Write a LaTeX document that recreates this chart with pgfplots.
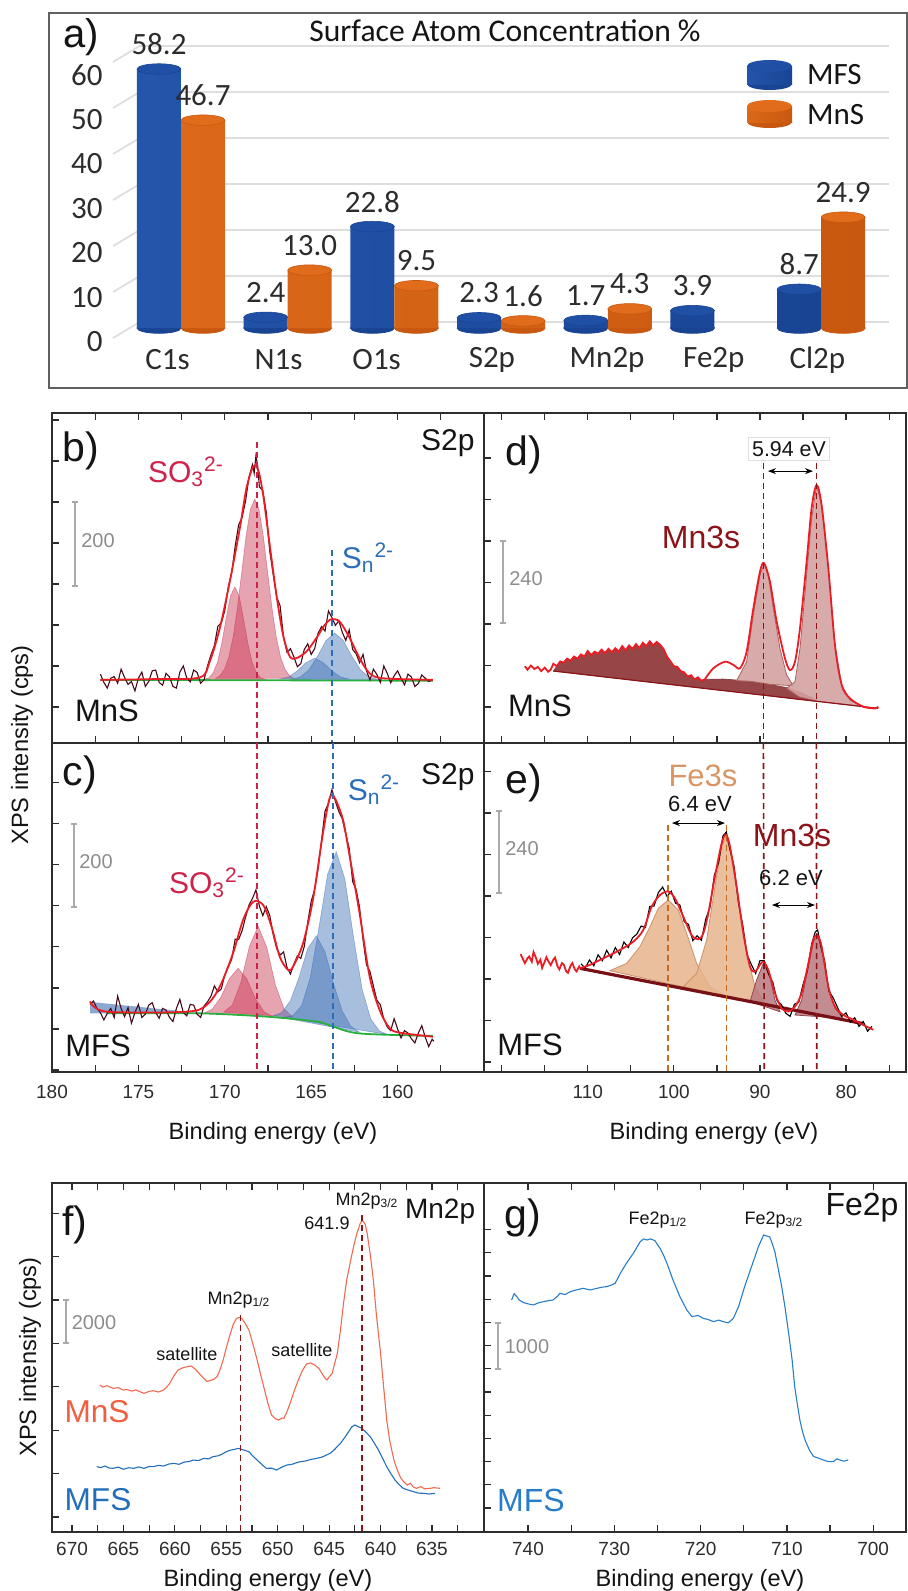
\documentclass[border=0pt]{standalone}
\usepackage{fontspec}
\setmainfont{Liberation Sans}
\newfontfamily\calfont{Carlito}
\usepackage{pgfplots}
\pgfplotsset{compat=1.18}
\usetikzlibrary{arrows.meta}
\newcommand\fs[1]{\fontsize{#1}{#1}\selectfont}

\definecolor{axcol}{RGB}{45,45,45}
\definecolor{txt}{RGB}{20,20,20}
\definecolor{blueL}{RGB}{35,85,170}
\definecolor{blueM}{RGB}{60,120,210}
\definecolor{blueR}{RGB}{25,68,148}
\definecolor{blueTop}{RGB}{32,80,165}
\definecolor{orL}{RGB}{220,105,25}
\definecolor{orM}{RGB}{252,145,50}
\definecolor{orR}{RGB}{200,88,15}
\definecolor{orTop}{RGB}{225,108,28}
\definecolor{gridc}{RGB}{222,222,222}
\definecolor{fitred}{RGB}{235,28,36}
\definecolor{rawdark}{RGB}{70,10,25}
\definecolor{basegreen}{RGB}{40,175,60}
\definecolor{so3}{RGB}{205,35,75}
\definecolor{snblue}{RGB}{45,110,185}
\definecolor{compred}{RGB}{200,50,80}
\definecolor{compblue}{RGB}{60,110,180}
\definecolor{mndark}{RGB}{140,20,25}
\definecolor{mnfill}{RGB}{150,70,70}
\definecolor{mnpink}{RGB}{212,162,162}
\definecolor{mnpinkd}{RGB}{175,95,95}
\definecolor{fefill}{RGB}{230,180,140}
\definecolor{fedraw}{RGB}{205,145,100}
\definecolor{fetext}{RGB}{215,150,100}
\definecolor{fedash}{RGB}{200,105,30}
\definecolor{mncomp}{RGB}{185,120,125}
\definecolor{mncompd}{RGB}{150,70,80}
\definecolor{mnsline}{RGB}{240,105,80}
\definecolor{mnstext}{RGB}{240,95,65}
\definecolor{mfsline}{RGB}{35,110,185}
\definecolor{feline}{RGB}{40,125,200}
\definecolor{sbar}{RGB}{170,170,170}
\definecolor{stext}{RGB}{140,140,140}

\pgfplotsset{
  spec/.style={scale only axis, x dir=reverse,
    axis line style={draw=axcol, line width=0.75pt},
    tick align=inside, major tick length=3.5pt, minor tick length=3.5pt,
    tick style={axcol, line width=0.6pt},
    ytick pos=left, yticklabels={}, scaled y ticks=false,
    ticklabel style={font=\fs{9.5}, text=txt!90},
    /pgf/number format/assume math mode=true,
    /pgf/number format/1000 sep={}},
  cfill/.style={fill=#1, fill opacity=0.45, draw=#1, draw opacity=0.5, line width=0.3pt},
}

\begin{document}
\begin{tikzpicture}[x=0.5pt,y=-0.5pt]
\path[use as bounding box] (0,0) rectangle (908,1591);

% ---------------- a) bar chart
\draw[gray!75!black, line width=0.6pt] (49,13) rectangle (907,388);
\begin{axis}[at={(53pt,-164pt)}, anchor=south west, scale only axis,
  width=394.5pt, height=155.75pt,
  xmin=-0.4967, xmax=6.898, ymin=0, ymax=70, clip=false, clip marker paths=true,
  axis line style={draw=none}, tick style={draw=none},
  xtick={0.08,1.12,2.04,3.12,4.2,5.2,6.17},
  xticklabels={C1s,N1s,O1s,S2p,Mn2p,Fe2p,Cl2p},
  ytick={0,10,...,60},
  xticklabel style={anchor=center, yshift=-16pt},
  yticklabel style={anchor=east, inner sep=0pt, xshift=-1.5pt, yshift=-7pt},
  ticklabel style={font=\calfont\fs{15.5}, text=txt!90},
  /pgf/number format/assume math mode=true]
 % back grid (perspective offset)
 \draw[gridc, line width=0.9pt] (-0.43,-2.25) -- (-0.18,1.35) -- (6.84,1.35);
 \draw[gridc, line width=0.9pt] (-0.43,8.09) -- (-0.18,11.69) -- (6.84,11.69);
 \draw[gridc, line width=0.9pt] (-0.43,18.43) -- (-0.18,22.03) -- (6.84,22.03);
 \draw[gridc, line width=0.9pt] (-0.43,28.77) -- (-0.18,32.37) -- (6.84,32.37);
 \draw[gridc, line width=0.9pt] (-0.43,39.11) -- (-0.18,42.71) -- (6.84,42.71);
 \draw[gridc, line width=0.9pt] (-0.43,49.45) -- (-0.18,53.05) -- (6.84,53.05);
 \draw[gridc, line width=0.9pt] (-0.43,59.79) -- (-0.18,63.39) -- (6.84,63.39);
 % bottom caps
 \addplot[blueR, only marks, mark=*, mark size=11pt, mark options={yscale=0.24, fill=blueR, draw=blueR}]
   coordinates {(0,0) (1,0) (2,0) (3,0) (4,0) (5,0) (6,0)};
 \addplot[orR, only marks, mark=*, mark size=11pt, mark options={yscale=0.24, fill=orR, draw=orR}]
   coordinates {(0.4125,0) (1.4125,0) (2.4125,0) (3.4125,0) (4.4125,0) (6.4125,0)};
 % MFS
 \addplot[ybar, bar width=22pt, bar shift=0pt, draw=none,
   left color=blueL, middle color=blueM, right color=blueR,
   nodes near coords={\pgfmathprintnumber[fixed,fixed zerofill,precision=1]{\pgfplotspointmeta}},
   every node near coord/.append style={anchor=center, yshift=12.5pt, font=\calfont\fs{15.5}, text=txt!90}]
   coordinates {(0,58.2) (1,2.4) (2,22.8) (3,2.3) (4,1.7) (5,3.9) (6,8.7)};
 % MnS
 \addplot[ybar, bar width=22pt, bar shift=0pt, draw=none,
   left color=orL, middle color=orM, right color=orR,
   nodes near coords={\pgfmathprintnumber[fixed,fixed zerofill,precision=1]{\pgfplotspointmeta}},
   every node near coord/.append style={anchor=center, yshift=12.5pt, font=\calfont\fs{15.5}, text=txt!90}]
   coordinates {(0.4125,46.7) (1.4125,13.0) (2.4125,9.5) (3.4125,1.6) (4.4125,4.3) (6.4125,24.9)};
 % top caps
 \addplot[blueTop, only marks, mark=*, mark size=11pt, mark options={yscale=0.24, fill=blueTop, draw=blueR, line width=0.3pt}]
   coordinates {(0,58.2) (1,2.4) (2,22.8) (3,2.3) (4,1.7) (5,3.9) (6,8.7)};
 \addplot[orTop, only marks, mark=*, mark size=11pt, mark options={yscale=0.24, fill=orTop, draw=orR, line width=0.3pt}]
   coordinates {(0.4125,46.7) (1.4125,13.0) (2.4125,9.5) (3.4125,1.6) (4.4125,4.3) (6.4125,24.9)};
\end{axis}
\node[font=\fs{20}, text=txt] at (81,37) {a)};
\node[font=\calfont\fs{15.8}, text=txt] at (505,31) {Surface Atom Concentration \%};
% legend
\fill[blueR] (769.5,84) ellipse [x radius=22.5, y radius=6];
\shade[left color=blueL, middle color=blueM, right color=blueR] (747,66) rectangle (792,84);
\fill[blueTop] (769.5,66) ellipse [x radius=22.5, y radius=6];
\fill[orR] (769.5,122) ellipse [x radius=22.5, y radius=6];
\shade[left color=orL, middle color=orM, right color=orR] (747,106) rectangle (792,122);
\fill[orTop] (769.5,106) ellipse [x radius=22.5, y radius=6];
\node[anchor=west, font=\calfont\fs{15.5}, text=txt] at (800,75) {MFS};
\node[anchor=west, font=\calfont\fs{15.5}, text=txt] at (800,115) {MnS};

% ---------------- b) MnS S2p
\begin{axis}[spec, at={(26pt,-371.5pt)}, anchor=south west, width=216pt, height=165pt,
  xmin=155, xmax=180, ymin=-88, ymax=717,
  xtick={160,165,...,180}, minor xtick={157.5,162.5,...,177.5}, xtick pos=both, xticklabels={},
  ytick={0,100,...,700}]
 \addplot[cfill=compred] coordinates {(171.2,67) (170.92,71) (170.67,83) (170.42,109) (170.17,156) (169.92,216) (169.67,271) (169.42,293) (169.17,271) (168.92,216) (168.67,156) (168.42,109) (168.17,83) (167.92,71) (167.64,67)} -- cycle;
 \addplot[cfill=compred] coordinates {(170.52,70) (170.27,77) (170.02,92) (169.77,121) (169.52,170) (169.27,241) (169.02,328) (168.77,416) (168.52,482) (168.27,507) (168.02,482) (167.77,416) (167.52,328) (167.27,241) (167.02,170) (166.77,121) (166.52,92) (166.27,77) (166.02,70)} -- cycle;
 \addplot[cfill=compblue] coordinates {(166.8,68) (166.3,73) (165.8,88) (165.3,108) (164.8,119) (164.3,108) (163.8,88) (163.3,73) (162.8,68)} -- cycle;
 \addplot[cfill=compblue] coordinates {(166.14,67) (165.64,73) (165.14,90) (164.64,123) (164.14,162) (163.64,180) (163.14,162) (162.64,123) (162.14,90) (161.64,73) (161.14,67)} -- cycle;
 \addplot[basegreen, line width=0.9pt] coordinates {(177.2,66) (157.96,64)};
 \addplot[rawdark, line width=0.55pt] coordinates {(177.2,80) (177.0,60) (176.8,46) (176.6,70) (176.4,74) (176.2,58) (176.0,92) (175.8,72) (175.6,55) (175.4,62) (175.2,39) (175.0,70) (174.8,85) (174.6,50) (174.4,62) (174.2,88) (174.0,90) (173.8,60) (173.6,53) (173.4,82) (173.2,73) (173.0,50) (172.8,46) (172.6,85) (172.4,100) (172.2,70) (172.0,61) (171.8,90) (171.6,84) (171.4,58) (171.2,66) (171.0,100) (170.8,127) (170.6,150) (170.4,197) (170.2,205) (170.0,235) (169.8,292) (169.6,327) (169.4,392) (169.2,444) (169.0,462) (168.8,502) (168.6,560) (168.4,591) (168.3,570) (168.2,612) (168.1,590) (168.0,537) (167.8,528) (167.6,475) (167.4,380) (167.2,324) (167.0,268) (166.8,247) (166.6,170) (166.4,133) (166.2,142) (166.0,122) (165.8,98) (165.6,106) (165.4,140) (165.2,154) (165.0,128) (164.8,142) (164.6,180) (164.4,196) (164.2,185) (164.0,234) (163.8,218) (163.6,199) (163.4,210) (163.2,182) (163.0,162) (162.8,188) (162.6,140) (162.4,130) (162.2,108) (162.0,128) (161.8,88) (161.6,66) (161.4,92) (161.2,79) (161.0,60) (160.8,100) (160.6,82) (160.4,59) (160.2,76) (160.0,88) (159.8,70) (159.6,54) (159.4,80) (159.2,73) (159.0,50) (158.8,57) (158.6,78) (158.4,70) (158.2,62) (158.0,66)};
 \addplot[fitred, line width=0.9pt, smooth, tension=0.5] coordinates {(177.2,66) (174,68) (171.44,72) (170.87,111) (170.29,192) (169.71,306) (169.13,436) (168.75,533) (168.36,586) (168.07,578) (167.78,517) (167.40,395) (167.01,273) (166.63,176) (166.24,123) (165.86,119) (165.28,135) (164.70,168) (164.22,200) (163.83,214) (163.35,208) (162.77,168) (162.20,119) (161.62,82) (160.85,70) (157.96,66)};
 \draw[so3, line width=0.8pt, dash pattern=on 3pt off 2pt] (168.13,647) -- (168.13,-88);
 \draw[snblue, line width=0.8pt, dash pattern=on 3pt off 2pt] (163.8,383) -- (163.8,-88);
\end{axis}

% ---------------- c) MFS S2p
\begin{axis}[spec, at={(26pt,-536pt)}, anchor=south west, width=216pt, height=164.5pt,
  xmin=155, xmax=180, ymin=-5, ymax=797,
  xtick={160,165,...,180}, minor xtick={157.5,162.5,...,177.5}, xtick pos=left,
  xticklabel style={yshift=-3pt},
  ytick={0,100,...,700}]
 \addplot[fill=compblue, fill opacity=0.6, draw=none] coordinates {(177.8,166) (172.2,142) (172.2,138) (177.8,138)} -- cycle;
 \addplot[cfill=compred] coordinates {(171.23,138) (170.73,148) (170.23,177) (169.73,223) (169.23,248) (168.73,222) (168.23,174) (167.73,142) (167.23,130)} -- cycle;
 \addplot[cfill=compred] coordinates {(170.07,141) (169.57,158) (169.07,213) (168.57,302) (168.07,350) (167.57,299) (167.07,207) (166.57,149) (166.07,129)} -- cycle;
 \addplot[cfill=compblue] coordinates {(167.2,132) (166.7,140) (166.2,169) (165.7,226) (165.2,296) (164.7,327) (164.2,288) (163.7,209) (163.2,143) (162.7,106) (162.2,92)} -- cycle;
 \addplot[cfill=compblue] coordinates {(166.55,128) (166.05,133) (165.55,157) (165.05,226) (164.55,347) (164.05,477) (163.55,532) (163.05,465) (162.55,323) (162.05,196) (161.55,124) (161.05,95) (160.55,86)} -- cycle;
 \addplot[basegreen, line width=0.9pt, smooth] coordinates {(176.84,138) (171.44,138) (167.59,130) (164.70,118) (163.74,106) (162.20,89) (157.96,83)};
 \addplot[rawdark, line width=0.55pt] coordinates {(177.8,160) (177.6,168) (177.4,150) (177.2,140) (177.0,122) (176.8,138) (176.6,150) (176.4,128) (176.2,180) (176.0,150) (175.8,130) (175.6,152) (175.4,114) (175.2,140) (175.0,160) (174.8,128) (174.6,136) (174.4,158) (174.2,164) (174.0,140) (173.8,126) (173.6,150) (173.4,146) (173.2,128) (173.0,118) (172.8,150) (172.6,172) (172.4,140) (172.2,132) (172.0,160) (171.8,158) (171.6,136) (171.4,128) (171.2,156) (171.0,166) (170.8,180) (170.6,205) (170.4,190) (170.2,198) (170.0,232) (169.8,251) (169.6,270) (169.4,319) (169.2,318) (169.0,339) (168.8,372) (168.6,402) (168.4,418) (168.2,439) (168.0,400) (167.8,376) (167.6,398) (167.4,377) (167.2,330) (167.0,296) (166.8,280) (166.6,288) (166.4,250) (166.2,234) (166.0,258) (165.8,278) (165.6,272) (165.4,301) (165.2,360) (165.0,411) (164.8,440) (164.6,491) (164.4,560) (164.2,631) (164.0,650) (163.8,683) (163.6,655) (163.4,630) (163.2,612) (163.0,575) (162.8,540) (162.6,459) (162.4,440) (162.2,396) (162.0,318) (161.8,256) (161.6,240) (161.4,205) (161.2,170) (161.0,159) (160.8,125) (160.6,105) (160.4,96) (160.2,125) (160.0,100) (159.8,78) (159.6,96) (159.4,90) (159.2,76) (159.0,66) (158.8,90) (158.6,108) (158.4,80) (158.2,57) (158.0,75) (157.9,70)};
 \addplot[fitred, line width=0.9pt, smooth, tension=0.5] coordinates {(177.8,167) (176.84,142) (172.22,142) (171.06,158) (170.29,203) (169.52,285) (168.94,366) (168.36,410) (167.78,402) (167.30,350) (166.82,276) (166.34,244) (166.05,252) (165.47,309) (164.90,415) (164.32,577) (163.93,663) (163.64,663) (163.16,610) (162.77,520) (162.20,382) (161.62,228) (161.04,146) (160.46,102) (159.88,91) (157.96,81)};
 \draw[so3, line width=0.8pt, dash pattern=on 3pt off 2pt] (168.13,797) -- (168.13,-5);
 \draw[snblue, line width=0.8pt, dash pattern=on 3pt off 2pt] (163.74,797) -- (163.74,-5);
\end{axis}

% ---------------- d) MnS Mn3s
\begin{axis}[spec, at={(242pt,-371.5pt)}, anchor=south west, width=211pt, height=165pt,
  xmin=73.04, xmax=122.05, ymin=-104, ymax=850,
  xtick={75,80,...,120}, xtick pos=both, xticklabels={},
  ytick={0,120,...,720}]
 \addplot[fill=mnfill, draw=mnfill!80!black, line width=0.3pt] coordinates {(114.0,104.1) (113.6,118) (113.2,132) (112.8,128) (112.4,140) (112.0,134) (111.6,146) (111.2,140) (110.8,152) (110.4,146) (110.0,162) (109.6,150) (109.2,160) (108.8,154) (108.4,166) (108.0,156) (107.6,168) (107.2,158) (106.8,170) (106.4,160) (106.0,176) (105.6,164) (105.2,178) (104.8,168) (104.4,182) (104.0,170) (103.6,186) (103.2,176) (102.8,190) (102.4,178) (102.0,188) (101.6,180) (101.2,168) (100.8,146) (100.4,132) (100.0,118) (99.6,116) (99.2,104) (98.8,100) (98.4,88) (98.0,92) (97.6,80) (97.2,86) (96.8,76) (96.4,80) (94.26,81) (91.16,75) (88.84,65.5) (86.9,56) (84.97,39.5) (83.42,20.2) (83.42,16.6)} -- cycle;
 \addplot[fill=mnpink, fill opacity=0.9, draw=mnpinkd, line width=0.4pt] coordinates {(92.71,76.2) (91.55,131.1) (90.77,266.1) (90.0,381.7) (89.53,412.6) (89.03,381.7) (88.45,285.3) (87.68,169.7) (86.9,92.5) (86.13,61.7) (88.8,65.5) (91.0,74)} -- cycle;
 \addplot[fill=mnpink, fill opacity=0.9, draw=mnpinkd, line width=0.4pt] coordinates {(86.9,54.0) (85.93,73.3) (85.35,169.7) (84.58,381.7) (84.0,545.6) (83.42,640.1) (82.84,584.2) (82.06,401.0) (81.29,179.3) (80.51,63.6) (79.55,20.2) (78.0,0.9) (76.84,-3.9) (78.5,3) (81.0,10) (83.4,17) (85.5,30)} -- cycle;
 \addplot[mndark, line width=0.6pt] coordinates {(114.0,104.1) (76.26,-3.9)};
 \addplot[fitred, line width=0.9pt] coordinates {(117.3,118) (117.0,108) (116.6,120) (116.2,110) (115.8,116) (115.4,104) (115.0,114) (114.6,102) (114.3,108) (114.0,125) (113.6,118) (113.2,132) (112.8,128) (112.4,140) (112.0,134) (111.6,146) (111.2,140) (110.8,152) (110.4,146) (110.0,162) (109.6,150) (109.2,160) (108.8,154) (108.4,166) (108.0,156) (107.6,168) (107.2,158) (106.8,170) (106.4,160) (106.0,176) (105.6,164) (105.2,178) (104.8,168) (104.4,182) (104.0,170) (103.6,186) (103.2,176) (102.8,190) (102.4,178) (102.0,188) (101.6,180) (101.2,168) (100.8,146) (100.4,132) (100.0,118) (99.6,116) (99.2,104) (98.8,100) (98.4,88) (98.0,92) (97.6,80) (97.2,86) (96.8,76) (96.4,80)};
 \addplot[fitred, line width=0.9pt, smooth, tension=0.5] coordinates {(96.4,80) (95.42,112) (94.06,131) (93.10,122) (92.32,112) (91.55,160) (90.77,285) (90.0,391) (89.53,416) (88.84,362) (88.06,247) (87.10,141) (86.51,107) (85.93,131) (85.35,228) (84.58,420) (84.0,575) (83.42,642) (82.84,584) (82.06,401) (81.29,179) (80.51,64) (79.55,25) (78.0,1) (76.64,-4) (76.26,1)};
 \draw[mndark, line width=0.8pt, dash pattern=on 3pt off 2pt] (89.6,706) -- (89.6,-104);
 \draw[mndark, line width=0.8pt, dash pattern=on 3pt off 2pt] (83.45,706) -- (83.45,-104);
 \draw[{Stealth[length=4pt,width=3pt]}-{Stealth[length=4pt,width=3pt]}, line width=0.5pt] (89.07,682) -- (83.84,682);
\end{axis}

% ---------------- e) MFS Fe3s/Mn3s
\begin{axis}[spec, at={(242pt,-536pt)}, anchor=south west, width=211pt, height=164.5pt,
  xmin=73.04, xmax=122.05, ymin=-29, ymax=922.5,
  xtick={75,80,...,120}, xticklabels={,80,,90,,100,,110,,}, xtick pos=left,
  xticklabel style={yshift=-3pt},
  ytick={0,120,...,840}]
 \addplot[fill=fefill, fill opacity=0.85, draw=fedraw, line width=0.4pt] coordinates {(107.42,264.1) (105.48,285.3) (103.94,333.5) (102.77,391.4) (101.81,444.4) (100.65,468.5) (99.48,439.6) (98.52,372.1) (97.35,285.3) (95.81,217.9) (93.87,189.0)} -- cycle;
 \addplot[fill=fefill, fill opacity=0.85, draw=fedraw, line width=0.4pt] coordinates {(98.90,217.9) (97.35,256.4) (96.19,352.8) (95.23,507.1) (94.45,622.7) (93.95,651.7) (93.29,593.8) (92.52,468.5) (91.55,314.3) (90.58,217.9) (89.61,174.5) (88.84,162)} -- cycle;
 \addplot[fill=mncomp, fill opacity=0.85, draw=mncompd, line width=0.4pt] coordinates {(91.16,174.5) (90.39,237.1) (89.61,285.3) (88.84,246.8) (88.26,179.3) (87.68,145.6)} -- cycle;
 \addplot[fill=mncomp, fill opacity=0.85, draw=mncompd, line width=0.4pt] coordinates {(85.93,135.9) (85.16,179.3) (84.38,275.7) (83.80,348.0) (83.34,364.4) (82.84,328.7) (82.06,217.9) (81.29,155.2) (80.32,126.3)} -- cycle;
 \addplot[mndark!85!black, line width=1.6pt] coordinates {(110.9,270.9) (78.0,110.9)};
 \addplot[black, line width=0.55pt] coordinates {(110.8,284) (110.3,272) (109.8,295) (109.3,278) (108.8,310) (108.3,293) (107.8,323) (107.3,301) (106.8,331) (106.3,311) (105.8,347) (105.3,331) (104.8,359) (104.3,370) (103.8,393) (103.3,389) (102.8,450) (102.3,451) (101.8,490) (101.3,506) (100.8,479) (100.3,494) (99.8,459) (99.3,454) (98.8,406) (98.3,398) (97.8,351) (97.3,365) (96.8,352) (96.3,413) (95.8,448) (95.3,540) (94.8,577) (94.3,654) (93.9,665) (93.5,616) (93.0,565) (92.5,460) (92.0,396) (91.5,310) (91.0,282) (90.5,256) (90.0,293) (89.5,293) (89.0,254) (88.5,230) (88.0,176) (87.5,166) (87.0,141) (86.5,132) (86.0,167) (85.5,172) (85.0,224) (84.5,264) (84.0,341) (83.6,375) (83.3,382) (82.9,330) (82.5,294) (82.0,205) (81.5,186) (81.0,158) (80.5,132) (80.0,142) (79.5,116) (79.0,128) (78.5,103) (78.0,117) (77.5,89) (77.0,103)};
 \addplot[fitred, line width=0.9pt] coordinates {(117.8,312) (117.5,296) (117.3,286) (117.0,300) (116.8,305) (116.5,290) (116.3,318) (116.0,300) (115.8,284) (115.5,296) (115.3,272) (115.0,290) (114.8,303) (114.5,288) (114.3,280) (114.0,296) (113.8,302) (113.5,276) (113.3,268) (113.0,286) (112.8,282) (112.5,262) (112.3,258) (112.0,278) (111.8,286) (111.5,268) (111.3,262) (111.0,276) (110.9,271)};
 \addplot[fitred, line width=0.9pt, smooth, tension=0.5] coordinates {(110.90,271) (109.74,281) (108.19,300) (106.26,324) (104.71,348) (103.55,382) (102.58,449) (101.61,483) (100.65,493) (99.87,473) (98.90,420) (97.94,367) (97.16,355) (96.58,372) (96.00,430) (95.23,536) (94.45,632) (93.95,657) (93.48,623) (92.71,507) (91.93,372) (91.16,276) (90.58,261) (90.00,281) (89.61,290) (89.03,266) (88.26,199) (87.48,155) (86.71,146) (85.93,160) (85.16,199) (84.38,285) (83.80,353) (83.34,367) (82.84,334) (82.06,218) (81.29,160) (80.32,136) (79.16,122) (78.00,107) (76.84,93)};
 \draw[fedash, line width=0.8pt, dash pattern=on 3pt off 2pt] (100.65,685) -- (100.65,-29);
 \draw[fedash, line width=0.8pt, dash pattern=on 3pt off 2pt] (93.87,685) -- (93.87,-29);
 \draw[mndark, line width=0.8pt, dash pattern=on 3pt off 2pt] (89.6,922.5) -- (89.5,-29);
 \draw[mndark, line width=0.8pt, dash pattern=on 3pt off 2pt] (83.45,922.5) -- (83.4,-29);
 \draw[{Stealth[length=4pt,width=3pt]}-{Stealth[length=4pt,width=3pt]}, line width=0.5pt] (100.22,691) -- (94.07,691);
 \draw[{Stealth[length=4pt,width=3pt]}-{Stealth[length=4pt,width=3pt]}, line width=0.5pt] (88.61,454) -- (83.61,454);
\end{axis}

% ---------------- f) Mn2p
\begin{axis}[spec, at={(26pt,-766pt)}, anchor=south west, width=216pt, height=174.5pt,
  xmin=629.94, xmax=671.95, ymin=-691, ymax=15391,
  xtick={635,640,...,670}, minor xtick={632.5,637.5,...,667.5}, xtick pos=both,
  xticklabel style={yshift=-1.5pt},
  ytick={0,2000,...,14000}]
 \addplot[mnsline, line width=0.55pt] coordinates {(667.3,6083) (667.0,5990) (666.6,6050) (666.0,5929) (665.5,5960) (665.0,5850) (664.7,5883) (664.2,5800) (663.8,5860) (663.4,5776) (663.0,5700) (662.5,5790) (662.1,5822) (661.6,5760) (661.1,5852) (660.8,5980) (660.5,6160) (660.1,6500) (659.7,6774) (659.2,6880) (658.8,6928) (658.4,6960) (658.0,6805) (657.6,6600) (657.2,6390) (656.9,6250) (656.6,6282) (656.2,6350) (655.9,6467) (655.6,6800) (655.3,7235) (655.0,7800) (654.6,8464) (654.3,8900) (654.0,9155) (653.7,9200) (653.5,9155) (653.2,8950) (652.8,8617) (652.4,7950) (652.0,7235) (651.6,6450) (651.2,5699) (650.9,5150) (650.6,4700) (650.2,4520) (649.9,4470) (649.6,4560) (649.4,4547) (649.1,4850) (648.8,5238) (648.4,5800) (648.0,6313) (647.6,6750) (647.2,7051) (646.8,7100) (646.4,7004) (646.0,6850) (645.7,6620) (645.4,6400) (645.2,6313) (645.0,6450) (644.7,6620) (644.5,7000) (644.2,7542) (643.9,8600) (643.6,9846) (643.3,10900) (642.9,11843) (642.6,12500) (642.3,13072) (642.0,13500) (641.8,13686) (641.5,13500) (641.3,13072) (641.0,12100) (640.7,10921) (640.4,9300) (640.0,7542) (639.7,6000) (639.4,4470) (639.1,3500) (638.7,2627) (638.4,2200) (638.1,1859) (637.8,1650) (637.4,1475) (637.1,1550) (636.8,1380) (636.5,1322) (636.1,1400) (635.7,1300) (635.2,1322) (634.8,1350) (634.2,1322)};
 \addplot[mfsline, line width=0.55pt] coordinates {(667.6,2320) (667.2,2280) (666.8,2350) (666.4,2260) (666.0,2243) (665.5,2300) (665.0,2200) (664.5,2270) (664.0,2243) (663.5,2310) (663.0,2240) (662.5,2330) (662.1,2320) (661.6,2380) (661.1,2350) (660.6,2440) (660.1,2473) (659.6,2430) (659.1,2530) (658.6,2560) (658.2,2627) (657.7,2600) (657.2,2700) (656.7,2680) (656.3,2780) (655.8,2820) (655.4,2900) (655.0,3011) (654.6,3080) (654.2,3120) (653.8,3164) (653.4,3100) (652.8,3011) (652.4,2800) (652.0,2627) (651.5,2400) (651.1,2243) (650.6,2250) (650.1,2166) (649.6,2300) (649.1,2396) (648.6,2430) (648.2,2500) (647.8,2550) (647.3,2580) (646.8,2650) (646.2,2704) (645.7,2760) (645.3,2850) (644.9,2934) (644.5,3100) (643.9,3395) (643.5,3650) (643.1,3932) (642.8,4150) (642.5,4240) (642.1,4150) (641.8,4086) (641.4,3900) (641.0,3702) (640.6,3400) (640.2,3088) (639.8,2700) (639.4,2320) (639.0,2000) (638.6,1706) (638.2,1500) (637.8,1322) (637.3,1240) (636.8,1168) (636.3,1100) (635.8,1091) (635.3,1060) (634.7,1091)};
 \draw[mndark, line width=0.8pt, dash pattern=on 3pt off 2pt] (653.6,9300) -- (653.6,-691);
 \draw[mndark, line width=0.8pt, dash pattern=on 3pt off 2pt] (641.8,13900) -- (641.8,-691);
\end{axis}

% ---------------- g) Fe2p
\begin{axis}[spec, at={(242pt,-766pt)}, anchor=south west, width=211pt, height=174.5pt,
  xmin=696.2, xmax=745.1, ymin=-517, ymax=7004,
  xtick={700,710,...,740}, minor xtick={705,715,...,735}, xtick pos=both,
  xticklabel style={yshift=-1.5pt},
  ytick={0,500,...,6000}]
 \addplot[feline, line width=0.55pt] coordinates {(741.9,4484) (741.6,4620) (741.3,4556) (741.0,4480) (740.5,4426) (740.0,4400) (739.4,4376) (738.8,4420) (738.2,4448) (737.6,4470) (737.1,4484) (736.6,4560) (736.3,4627) (735.7,4600) (735.1,4663) (734.4,4700) (733.6,4735) (732.8,4700) (732.0,4735) (731.4,4760) (730.9,4771) (730.4,4800) (729.9,4843) (729.3,5058) (728.6,5274) (727.8,5489) (727.0,5740) (726.6,5800) (726.2,5776) (725.8,5800) (725.3,5762) (724.7,5597) (724.3,5450) (723.9,5274) (723.2,4915) (722.4,4556) (721.6,4268) (721.0,4125) (720.3,4150) (719.7,4089) (719.1,4060) (718.5,4017) (717.9,4050) (717.4,4017) (716.8,3990) (716.2,4089) (715.6,4340) (714.9,4771) (714.1,5202) (713.3,5633) (712.7,5884) (712.3,5860) (712.0,5848) (711.7,5700) (711.4,5525) (711.0,5150) (710.6,4771) (710.2,4300) (709.8,3766) (709.4,3200) (709.1,2617) (708.8,2250) (708.5,1899) (708.2,1650) (707.9,1468) (707.4,1250) (706.9,1109) (706.4,1080) (705.8,1037) (705.2,1000) (704.6,1002) (704.2,1060) (703.9,1037) (703.4,1010) (702.9,1037)};
\end{axis}

% ---------------- texts
\tikzset{lbl/.style={font=\fs{20.5}, text=txt}}
\node[lbl] at (81,451) {b)};
\node[lbl] at (80,775) {c)};
\node[lbl] at (524,455) {d)};
\node[lbl] at (524,783) {e)};
\node[lbl] at (75,1225) {f)};
\node[lbl] at (523,1218) {g)};
\node[anchor=west, font=\fs{15}, text=txt] at (414,443) {S2p};
\node[anchor=west, font=\fs{15}, text=txt] at (414,777) {S2p};
\node[font=\fs{15.5}, text=txt] at (107,711) {MnS};
\node[font=\fs{15.5}, text=txt] at (98,1046) {MFS};
\node[font=\fs{15}, text=so3] at (186,472) {SO\textsubscript{3}\textsuperscript{2-}};
\node[font=\fs{15}, text=so3] at (207,883) {SO\textsubscript{3}\textsuperscript{2-}};
\node[font=\fs{15}, text=snblue] at (368,558) {S\textsubscript{n}\textsuperscript{2-}};
\node[font=\fs{15}, text=snblue] at (374,790) {S\textsubscript{n}\textsuperscript{2-}};
\node[font=\fs{16}, text=mndark] at (701,537) {Mn3s};
\node[font=\fs{15.5}, text=txt] at (540,706) {MnS};
\node[font=\fs{10.7}, text=txt, fill=white, draw=gray!25, inner sep=2pt] at (789,449) {5.94 eV};
\node[font=\fs{15.5}, text=fetext] at (703,776) {Fe3s};
\node[font=\fs{11}, text=txt] at (700,804) {6.4 eV};
\node[font=\fs{16}, text=mndark] at (792,835) {Mn3s};
\node[font=\fs{11}, text=txt] at (791,878) {6.2 eV};
\node[font=\fs{15.5}, text=txt] at (530,1045) {MFS};
\node[font=\fs{9}, text=txt] at (367,1201) {Mn2p\textsubscript{3/2}};
\node[anchor=west, font=\fs{14}, text=txt] at (398,1212) {Mn2p};
\node[font=\fs{9}, text=txt] at (327,1223) {641.9};
\node[font=\fs{9}, text=txt] at (239,1300) {Mn2p\textsubscript{1/2}};
\node[font=\fs{9}, text=txt] at (187,1354) {satellite};
\node[font=\fs{9}, text=txt] at (302,1350) {satellite};
\node[font=\fs{15.8}, text=mnstext] at (97,1412) {MnS};
\node[font=\fs{15.8}, text=mfsline] at (98,1500) {MFS};
\node[font=\fs{16}, text=txt] at (862,1208) {Fe2p};
\node[font=\fs{9}, text=txt] at (658,1220) {Fe2p\textsubscript{1/2}};
\node[font=\fs{9}, text=txt] at (774,1220) {Fe2p\textsubscript{3/2}};
\node[font=\fs{16}, text=feline] at (531,1500) {MFS};
% scale bars
\tikzset{sb/.style={sbar, line width=0.6pt}}
\draw[sb] (75,502) -- (75,586) (72,502) -- (78,502) (72,586) -- (78,586);
\node[font=\fs{10}, text=stext] at (98,541) {200};
\draw[sb] (74,824) -- (74,907) (71,824) -- (77,824) (71,907) -- (77,907);
\node[font=\fs{10}, text=stext] at (96,862) {200};
\draw[sb] (503,541) -- (503,623) (500,541) -- (506,541) (500,623) -- (506,623);
\node[font=\fs{10}, text=stext] at (526,579) {240};
\draw[sb] (499,811) -- (499,893) (496,811) -- (502,811) (496,893) -- (502,893);
\node[font=\fs{10}, text=stext] at (522,849) {240};
\draw[sb] (66,1300) -- (66,1343) (63,1300) -- (69,1300) (63,1343) -- (69,1343);
\node[font=\fs{10}, text=stext] at (94,1323) {2000};
\draw[sb] (498,1323) -- (498,1369) (495,1323) -- (501,1323) (495,1369) -- (501,1369);
\node[font=\fs{10}, text=stext] at (527,1347) {1000};
% axis titles
\node[font=\fs{11.8}, text=txt] at (273,1133) {Binding energy (eV)};
\node[font=\fs{11.8}, text=txt] at (714,1133) {Binding energy (eV)};
\node[font=\fs{11.8}, text=txt] at (268,1580) {Binding energy (eV)};
\node[font=\fs{11.8}, text=txt] at (700,1580) {Binding energy (eV)};
\node[font=\fs{11.8}, text=txt, rotate=90] at (22,745) {XPS intensity (cps)};
\node[font=\fs{11.8}, text=txt, rotate=90] at (30,1357) {XPS intensity (cps)};
\end{tikzpicture}
\end{document}
